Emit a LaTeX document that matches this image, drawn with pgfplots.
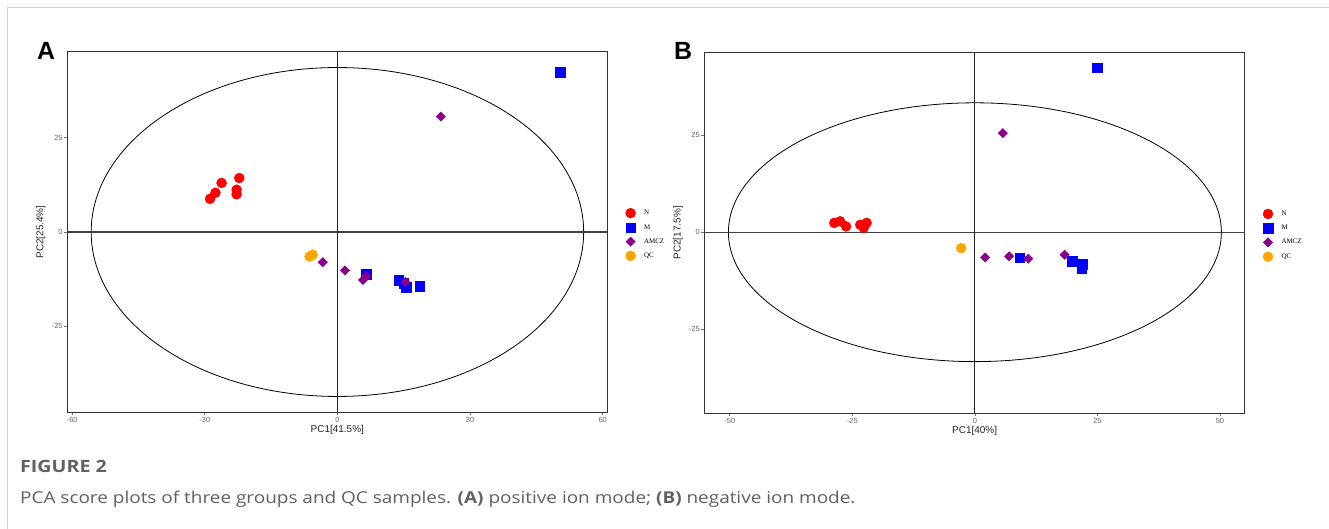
\documentclass[border=0pt]{standalone}
\usepackage{pgfplots}
\pgfplotsset{compat=1.18}
\usepackage{fontspec}
\setmainfont{Liberation Sans}
\newfontfamily\legfont{Liberation Serif}
\newfontfamily\capfont[FakeStretch=1.16]{Open Sans}
\definecolor{cN}{HTML}{FF0000}
\definecolor{cM}{HTML}{0000FF}
\definecolor{cA}{HTML}{8B008B}
\definecolor{cQ}{HTML}{FFA500}
\pgfplotsset{
  pca/.style={
    width=540bp, height=360.6bp, scale only axis,
    anchor=south west,
    axis line style={black!80, line width=1.1bp},
    tick align=outside, major tick length=3bp,
    xtick pos=bottom, ytick pos=left,
    tick style={black!55, line width=0.8bp},
    ticklabel style={font=\fontsize{7.5}{8.5}\selectfont, text=black!60},
    xticklabel style={inner sep=1.5bp},
    yticklabel style={inner sep=1.5bp},
    label style={font=\fontsize{10}{12}\selectfont, text=black!85},
    xlabel style={at={(axis description cs:0.5,-0.049)}, anchor=center},
    ylabel style={at={(axis description cs:-0.049,0.5)}, anchor=center},
    legend style={draw=none, fill=none, anchor=west, inner sep=0pt,
      font=\legfont\fontsize{7}{8}\selectfont,
      nodes={inner sep=0pt}, column sep=8.5bp, row sep=4.6bp},
    legend cell align=left,
    legend image code/.code={\draw[#1] plot coordinates {(0bp,0bp)};},
  },
  sN/.style={only marks, mark=*, mark size=5bp, mark options={draw=cN, fill=cN}},
  sM/.style={only marks, mark=square*, mark size=4.8bp, mark options={draw=cM, fill=cM}},
  sA/.style={only marks, mark=square*, mark size=3.3bp, mark options={draw=cA, fill=cA, rotate=45}},
  sQ/.style={only marks, mark=*, mark size=5bp, mark options={draw=cQ, fill=cQ}},
}
\begin{document}
\begin{tikzpicture}[x=1bp,y=1bp]
\path[use as bounding box] (0bp,0bp) rectangle (1329bp,529bp);
\fill[white] (0bp,0bp) rectangle (1329bp,529bp);
\draw[black!18, line width=1.5bp] (7.5bp,0bp) -- (7.5bp,521.5bp) -- (1329bp,521.5bp);
% Panel A
\node[anchor=base west, inner sep=0pt, font=\bfseries\fontsize{25}{25}\selectfont] at (37bp,469bp) {A};
\begin{axis}[pca, at={(67.3bp,116.7bp)},
  xmin=-61.1, xmax=61.05, ymin=-47.8, ymax=47.8,
  xtick={-60,-30,0,30,60}, xticklabels={-60,-30,0,30,60},
  ytick={-25,0,25}, yticklabels={-25,0,25},
  xlabel={PC1[41.5\%]}, ylabel={PC2[25.4\%]},
  legend style={at={(axis description cs:1.0335,0.493)}},
]
\draw[black, line width=0.8bp] (axis cs:0,0) ellipse [x radius=55.7, y radius=43.6];
\draw[black!75, line width=1.3bp] (axis cs:-61.1,0) -- (axis cs:61.05,0);
\draw[black!85, line width=0.9bp] (axis cs:0,-47.8) -- (axis cs:0,47.8);
\addplot[sN] coordinates {(-22.2,14.3) (-26.2,13.0) (-27.6,10.4) (-28.8,8.8) (-22.8,11.2) (-22.8,10.0)};
\addplot[sM] coordinates {(50.4,42.3) (6.5,-11.2) (13.9,-12.8) (15.0,-13.6) (15.6,-14.7) (18.6,-14.3)};
\addplot[sA] coordinates {(23.4,30.6) (-3.3,-8.0) (1.7,-10.2) (5.8,-12.7) (6.5,-11.7) (15.4,-13.3)};
\addplot[sQ] coordinates {(-6.3,-6.5) (-5.6,-6.0)};
\legend{N,M,AMCZ,QC}
\end{axis}
% Panel B
\node[anchor=base west, inner sep=0pt, font=\bfseries\fontsize{25}{25}\selectfont] at (674bp,469bp) {B};
\begin{axis}[pca, at={(704.4bp,115.7bp)}, width=540.5bp, height=361bp,
  xmin=-55.2, xmax=55.1, ymin=-46.6, ymax=46.3,
  xtick={-50,-25,0,25,50}, xticklabels={-50,-25,0,25,50},
  ytick={-25,0,25}, yticklabels={-25,0,25},
  xlabel={PC1[40\%]}, ylabel={PC2[17.5\%]},
  legend style={at={(axis description cs:1.0331,0.493)}},
]
\draw[black, line width=0.8bp] (axis cs:0,0) ellipse [x radius=50.3, y radius=33.3];
\draw[black!75, line width=1.3bp] (axis cs:-55.2,0) -- (axis cs:55.1,0);
\draw[black!85, line width=0.9bp] (axis cs:0,-46.6) -- (axis cs:0,46.3);
\addplot[sN] coordinates {(-28.7,2.4) (-27.5,2.8) (-26.3,1.5) (-23.4,1.9) (-22.1,2.4) (-22.7,1.1)};
\addplot[sM] coordinates {(25.0,42.3) (9.1,-6.6) (19.8,-7.4) (21.9,-8.2) (21.8,-9.2)};
\addplot[sA] coordinates {(5.7,25.5) (2.1,-6.5) (7.0,-6.2) (10.9,-6.8) (18.3,-5.8)};
\addplot[sQ] coordinates {(-2.8,-4.1)};
\legend{N,M,AMCZ,QC}
\end{axis}
% Caption
\node[anchor=base west, inner sep=0pt, font=\capfont\bfseries\fontsize{17}{20}\selectfont, text=black!62] at (20bp,56bp) {FIGURE 2};
\node[anchor=base west, inner sep=0pt, font=\capfont\fontsize{16.4}{19}\selectfont, text=black!62] at (20bp,26bp) {PCA score plots of three groups and QC samples. \textbf{(A)} positive ion mode; \textbf{(B)} negative ion mode.};
\end{tikzpicture}
\end{document}
